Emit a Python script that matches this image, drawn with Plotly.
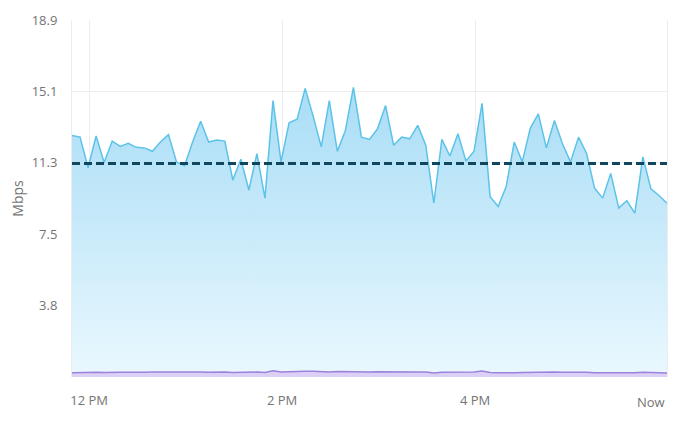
"""Download / upload throughput over the last ~6 hours."""

from datetime import datetime, timedelta

import plotly.graph_objects as go

# 5-minute samples, download speed in Mbps
download_mbps = [
    12.79, 12.70, 11.08, 12.76, 11.36, 12.49, 12.21, 12.37, 12.16, 12.13,
    11.95, 12.44, 12.83, 11.39, 11.18, 12.44, 13.54, 12.44, 12.55, 12.49,
    10.43, 11.53, 9.90, 11.83, 9.47, 14.63, 11.39, 13.46, 13.65, 15.28,
    13.80, 12.18, 14.63, 11.95, 13.05, 15.33, 12.70, 12.58, 13.14, 14.37,
    12.27, 12.70, 12.61, 13.32, 12.27, 9.20, 12.58, 11.70, 12.88, 11.43,
    11.95, 14.49, 9.55, 9.03, 10.08, 12.44, 11.39, 13.18, 13.93, 12.13,
    13.58, 12.35, 11.39, 12.70, 11.83, 9.99, 9.47, 10.78, 8.94, 9.33,
    8.68, 11.65, 9.96, 9.61, 9.20,
]

# upload speed in Mbps, same samples
upload_mbps = [
    0.22, 0.24, 0.23, 0.25, 0.24, 0.26, 0.25, 0.25, 0.24, 0.25,
    0.26, 0.25, 0.24, 0.26, 0.27, 0.28, 0.26, 0.25, 0.27, 0.26,
    0.24, 0.25, 0.23, 0.26, 0.24, 0.33, 0.27, 0.29, 0.30, 0.31,
    0.30, 0.28, 0.27, 0.29, 0.28, 0.30, 0.27, 0.26, 0.28, 0.27,
    0.26, 0.27, 0.25, 0.26, 0.27, 0.21, 0.25, 0.26, 0.27, 0.28,
    0.26, 0.32, 0.24, 0.22, 0.21, 0.23, 0.24, 0.25, 0.26, 0.27,
    0.26, 0.25, 0.26, 0.24, 0.25, 0.23, 0.22, 0.23, 0.22, 0.21,
    0.22, 0.25, 0.23, 0.22, 0.21,
]

avg_mbps = 11.3

y_ticks = [3.78, 7.56, 11.34, 15.12, 18.9]
y_tick_labels = ["3.8", "7.5", "11.3", "15.1", "18.9"]

x_tick_times = ["2024-01-01 12:00", "2024-01-01 14:00", "2024-01-01 16:00"]
x_tick_labels = ["12 PM", "2 PM", "4 PM"]

start = datetime(2024, 1, 1, 11, 49, 20)
times = [start + timedelta(minutes=5 * i) for i in range(len(download_mbps))]

FONT = "Open Sans, Noto Sans, sans-serif"
GRID = "#ededed"
TEXT = "#747474"

fig = go.Figure()

fig.add_trace(
    go.Scatter(
        x=times,
        y=download_mbps,
        mode="lines",
        name="Download",
        line=dict(color="#5cc3e8", width=1.5),
        fill="tozeroy",
        fillgradient=dict(
            type="vertical",
            start=0,
            stop=15.3,
            colorscale=[[0, "#eaf8fe"], [1, "#a9ddf6"]],
        ),
    )
)

fig.add_trace(
    go.Scatter(
        x=times,
        y=upload_mbps,
        mode="lines",
        name="Upload",
        line=dict(color="#9b82dc", width=1.5),
        fill="tozeroy",
        fillcolor="#dcd0f6",
    )
)

# average line
fig.add_trace(
    go.Scatter(
        x=[times[0], times[-1]],
        y=[avg_mbps, avg_mbps],
        mode="lines",
        name="Average",
        line=dict(color="#12465e", width=3, dash="8px,4px"),
    )
)

# "Now" label sits flush with the right edge
fig.add_annotation(
    x=times[-1],
    y=0,
    yref="y",
    text="Now",
    showarrow=False,
    xanchor="right",
    yanchor="top",
    yshift=-14,
    font=dict(family=FONT, size=13, color=TEXT),
)

# page body adds an 8px offset, so margins are trimmed by that much
fig.update_layout(
    width=682,
    height=421,
    margin=dict(l=64, r=23, t=12, b=52),
    paper_bgcolor="white",
    plot_bgcolor="white",
    showlegend=False,
    font=dict(family=FONT, size=13, color=TEXT),
    xaxis=dict(
        range=[times[0], times[-1]],
        tickvals=x_tick_times,
        ticktext=x_tick_labels,
        showgrid=True,
        gridcolor=GRID,
        zeroline=False,
        showline=False,
        ticks="",
        ticklabelstandoff=14,
        automargin=False,
    ),
    yaxis=dict(
        range=[0, 18.9],
        tickvals=y_ticks,
        ticktext=y_tick_labels,
        showgrid=True,
        gridcolor=GRID,
        zeroline=False,
        showline=True,
        mirror=True,
        linecolor=GRID,
        ticks="",
        ticklabelstandoff=11,
        automargin=False,
        title=dict(text="Mbps", standoff=14, font=dict(size=14, color=TEXT)),
    ),
)

fig.write_html("out.html")
